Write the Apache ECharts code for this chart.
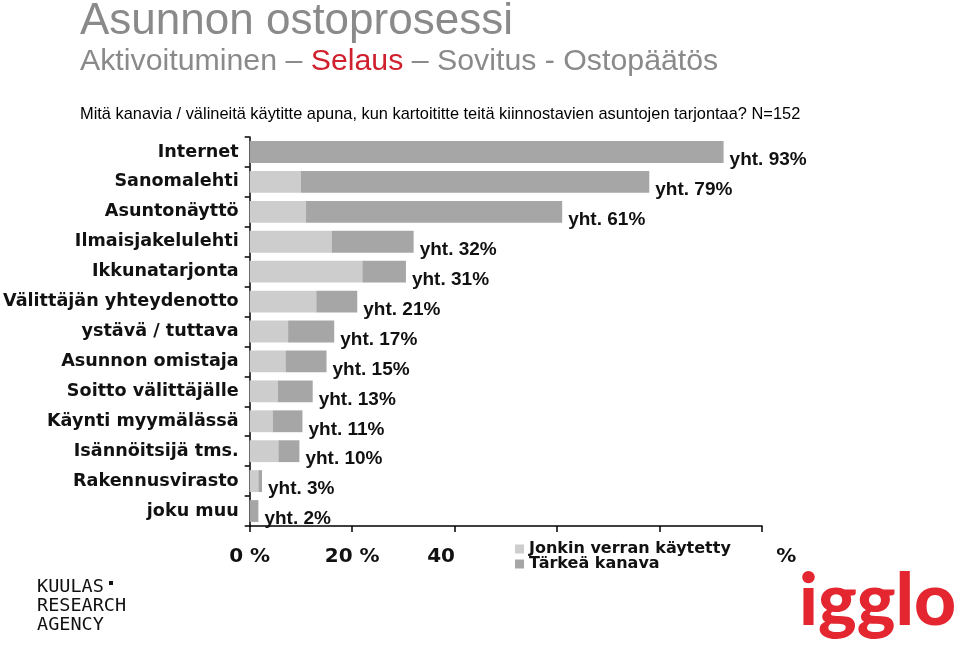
<!DOCTYPE html>
<html>
<head>
<meta charset="utf-8">
<script src="https://cdn.jsdelivr.net/npm/echarts@6/dist/echarts.min.js"></script>
<style>
html,body{margin:0;padding:0;background:#fff;}
#chart{width:960px;height:651px;}
</style>
</head>
<body>
<div id="chart"></div>
<script>
// ---- data ----
var categories = ['Internet','Sanomalehti','Asuntonäyttö','Ilmaisjakelulehti','Ikkunatarjonta','Välittäjän yhteydenotto','ystävä / tuttava','Asunnon omistaja','Soitto välittäjälle','Käynti myymälässä','Isännöitsijä tms.','Rakennusvirasto','joku muu'];
var somewhatUsed = [0, 10, 11, 16, 22, 13, 7.5, 7, 5.5, 4.5, 5.6, 1.7, 0];
var importantChannel = [92.5, 68, 50, 16, 8.5, 8, 9, 8, 6.8, 5.8, 4.1, 0.7, 1.7];
var totals = [93, 79, 61, 32, 31, 21, 17, 15, 13, 11, 10, 3, 2];
var seriesNames = ['Jonkin verran käytetty', 'Tärkeä kanava'];
var xTicks = [0, 20, 40, 60, 80, 100];

var chart = echarts.init(document.getElementById('chart'), null, {renderer: 'canvas'});

var option = {
  animation: false,
  backgroundColor: '#ffffff',
  grid: {left: 247, right: 198, top: 137, bottom: 125, containLabel: false},
  legend: {
    orient: 'vertical',
    left: 455, top: 538,
    padding: [3, 46, 3, 60],
    backgroundColor: '#ffffff',
    itemWidth: 9, itemHeight: 9, itemGap: -1,
    icon: 'rect',
    data: seriesNames,
    textStyle: {fontFamily: 'DejaVu Sans', fontWeight: 'bold', fontSize: 16, color: '#111', lineHeight: 13}
  },
  xAxis: {
    type: 'value',
    min: xTicks[0], max: xTicks[xTicks.length - 1], interval: xTicks[1] - xTicks[0],
    axisLine: {show: true, lineStyle: {color: '#000', width: 1.5}},
    axisTick: {show: true, length: 6, lineStyle: {color: '#000', width: 1.5}},
    splitLine: {show: false},
    axisLabel: {formatter: '{value} %', fontFamily: 'DejaVu Sans', fontWeight: 'bold', fontSize: 20, color: '#111', margin: 21}
  },
  yAxis: {
    type: 'category',
    data: categories,
    inverse: true,
    axisLine: {show: true, lineStyle: {color: '#000', width: 1.5}},
    axisTick: {show: true, length: 5, lineStyle: {color: '#000', width: 1.5}},
    axisLabel: {fontFamily: 'DejaVu Sans', fontWeight: 'bold', fontSize: 17.6, color: '#111', margin: 11}
  },
  series: [
    {
      name: seriesNames[0], type: 'bar', stack: 'total',
      data: somewhatUsed, barCategoryGap: '27%',
      itemStyle: {color: '#cdcdcd'}
    },
    {
      name: seriesNames[1], type: 'bar', stack: 'total',
      data: importantChannel, barCategoryGap: '27%',
      itemStyle: {color: '#a6a6a6'},
      label: {
        show: true, position: 'right', distance: 6, offset: [0, 8],
        formatter: function (p) { return 'yht. ' + totals[p.dataIndex] + '%'; },
        fontFamily: 'Liberation Sans, Arial, sans-serif', fontWeight: 'bold', fontSize: 19, color: '#111'
      }
    }
  ],
  graphic: [
    {type: 'text', left: 80, top: 0, style: {text: 'Asunnon ostoprosessi', font: '44px "Liberation Sans", Arial, sans-serif', fill: '#8a8a8a'}},
    {type: 'text', left: 80, top: 47, style: {
      text: '{g|Aktivoituminen – }{r|Selaus}{g| – Sovitus - Ostopäätös}',
      rich: {
        g: {fontFamily: 'Liberation Sans', fontSize: 30.3, fill: '#8a8a8a'},
        r: {fontFamily: 'Liberation Sans', fontSize: 30.3, fill: '#d0202e'}
      }
    }},
    {type: 'text', left: 80, top: 106, style: {text: 'Mitä kanavia / välineitä käytitte apuna, kun kartoititte teitä kiinnostavien asuntojen tarjontaa? N=152', font: '16.4px "Liberation Sans", Arial, sans-serif', fill: '#000'}},
    {type: 'text', left: 37, top: 578, style: {text: 'KUULAS\nRESEARCH\nAGENCY', font: '18.5px "DejaVu Sans Mono", monospace', fill: '#111', lineHeight: 19}},
    {type: 'rect', left: 109, top: 581, shape: {width: 4, height: 4}, style: {fill: '#111'}},
    {type: 'text', left: 799, top: 565, style: {text: 'igglo', font: '900 73px Lato, "Open Sans", sans-serif', fill: '#e3262f'}}
  ]
};
chart.setOption(option);
</script>
</body>
</html>
